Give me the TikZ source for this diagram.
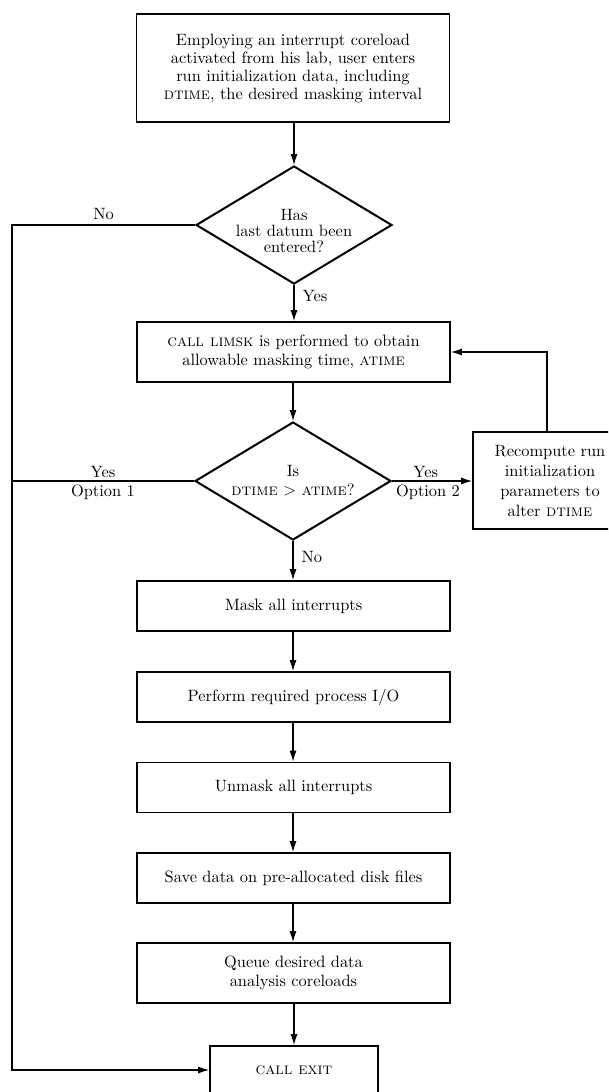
\documentclass[tikz,border=0pt]{standalone}
\usepackage{fontspec}
\setmainfont{lmroman10-regular.otf}[SmallCapsFont=lmromancaps10-regular.otf]
\usetikzlibrary{shapes.geometric,arrows.meta}
\begin{document}
\begin{tikzpicture}[x=1pt,y=-1pt,
  font=\fontsize{16.4}{19}\selectfont,
  box/.style={draw, line width=1.8pt, rectangle, minimum width=313pt, minimum height=50pt, align=center, inner sep=0pt},
  dec/.style={draw, line width=2pt, diamond, aspect=1.66, minimum width=196pt, minimum height=118pt, inner sep=0pt, align=center},
  conn/.style={line width=1.1pt},
  arr/.style={conn, -{Latex[length=11pt,width=7pt]}},
  lbl/.style={inner sep=3pt}]
\clip (0,0) rectangle (608,1092);
\fill[white] (0,0) rectangle (608,1092);

\node[box, minimum height=108pt, font=\fontsize{16.4}{18}\selectfont] (top) at (293,68)
  {Employing an interrupt coreload\\activated from his lab, user enters\\run initialization data, including\\\textsc{dtime}, the desired masking interval};
\node[dec] (d1) at (294,225) {};
\node[align=center, inner sep=0pt, font=\fontsize{16.4}{16}\selectfont] (d1t) at (294,231) {Has\\last datum been\\entered?};
\node[box, minimum height=60pt] (lim) at (293.5,352)
  {\textsc{call limsk} is performed to obtain\\allowable masking time, \textsc{atime}};
\node[dec] (d2) at (293,481) {Is\\\textsc{dtime} $>$ \textsc{atime}?};
\node[box, minimum width=154pt, minimum height=97pt, font=\fontsize{16.4}{20}\selectfont] (rc) at (550,480.5)
  {Recompute run\\initialization\\parameters to\\alter \textsc{dtime}};
\node[box] (mask) at (293.5,606) {Mask all interrupts};
\node[box] (perf) at (293.5,697) {Perform required process I/O};
\node[box] (unm) at (293.5,787.5) {Unmask all interrupts};
\node[box] (save) at (293.5,878) {Save data on pre-allocated disk files};
\node[box, minimum height=60pt] (queue) at (293.5,973) {Queue desired data\\analysis coreloads};
\node[box, minimum width=168pt, minimum height=48pt] (exit) at (294,1070) {\textsc{call exit}};

\coordinate (lt) at (12,225);
\coordinate (lb) at (12,1070);

\draw[arr] (top.south -| d1.north) -- (d1.north);
\draw[arr] (d1.south) -- node[lbl, anchor=west, pos=0.3, xshift=5pt]{Yes} (d1.south |- lim.north);
\draw[arr] (d1.west) -- node[lbl, above, yshift=2pt]{No} (lt) -- (lb) -- (exit.west);
\draw[arr] (d2.north |- lim.south) -- (d2.north);
\draw[conn] (d2.west) -- node[lbl, above]{Yes} node[lbl, below]{Option 1} (d2.west -| lt);
\draw[arr] (d2.east) -- node[lbl, above, pos=0.42]{Yes} node[lbl, below, pos=0.45]{Option 2} (d2.east -| rc.west);
\draw[arr] ([xshift=-3pt]rc.north) |- (lim.east);
\draw[arr] (d2.south) -- node[lbl, anchor=west, pos=0.4, xshift=5pt]{No} (d2.south |- mask.north);
\draw[arr] (mask.south -| d2.south) -- (perf.north -| d2.south);
\draw[arr] (perf.south -| d2.south) -- (unm.north -| d2.south);
\draw[arr] (unm.south -| d2.south) -- (save.north -| d2.south);
\draw[arr] (save.south -| d2.south) -- (queue.north -| d2.south);
\draw[arr] (queue.south -| exit.north) -- (exit.north);
\end{tikzpicture}
\end{document}
